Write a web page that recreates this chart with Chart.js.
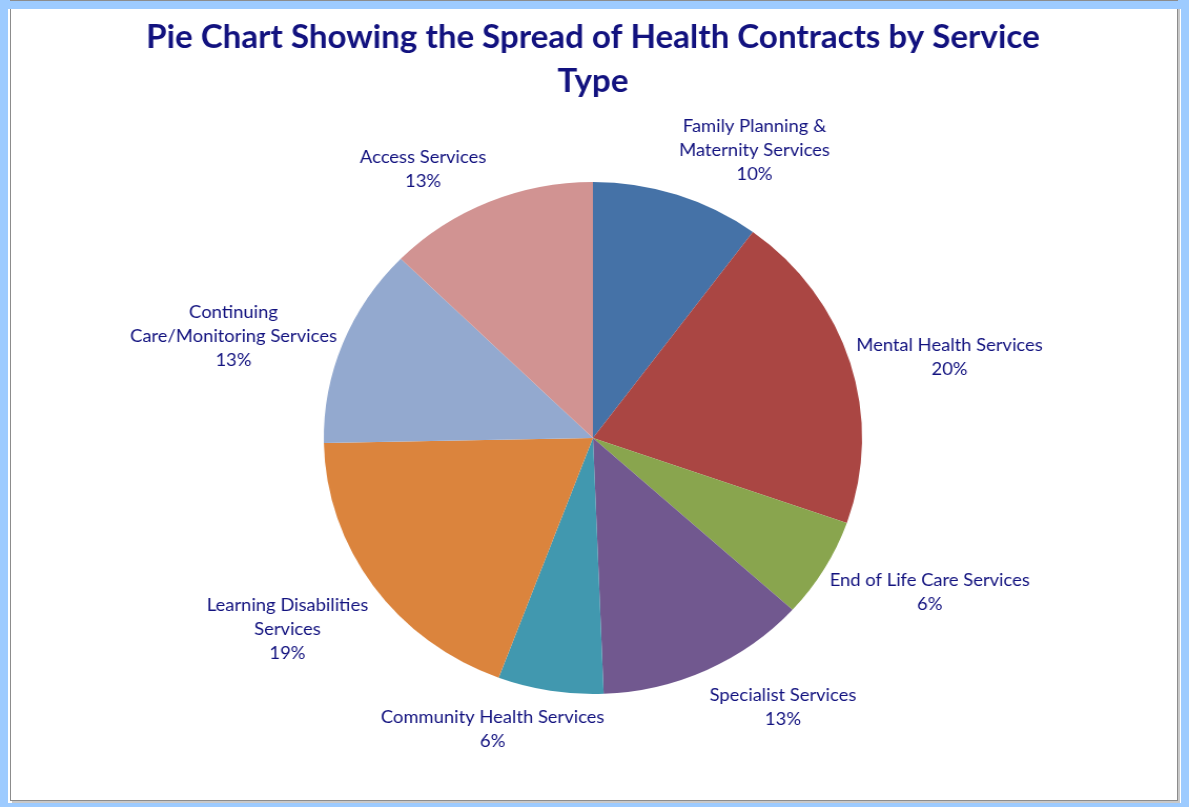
<!DOCTYPE html>
<html>
<head>
    <title>Health Contracts by Service Type</title>
    <script src="https://cdn.jsdelivr.net/npm/chart.js"></script>
    <style>
        body { margin: 0; background: #fff; }
        #frame { position: relative; width: 1189px; height: 807px; background: #9dcbff; overflow: hidden; }
        #paper { position: absolute; left: 8px; top: 9px; width: 1173px; height: 794px; background: #fff; }
        #panel { position: absolute; left: 10px; top: 0; width: 1166px; height: 799px; border: 1px solid #8c8c8c; box-shadow: 2px 2px 0 #c8c8c8; }
        #topband { position: absolute; left: 0; top: 1px; width: 1189px; height: 8px; background: #9dcbff; }
        #chartBox { position: absolute; left: 0; top: 0; width: 1131px; height: 807px; transform: scaleX(1.0513); transform-origin: 0 0; }
    </style>
</head>
<body>
    <div id="frame">
        <div id="paper"></div>
        <div id="panel"></div>
        <div id="topband"></div>
        <div id="chartBox"><canvas id="pieChart"></canvas></div>
    </div>

    <script>
        // Data
        const categories = [
            ['Family Planning &', 'Maternity Services'],
            ['Mental Health Services'],
            ['End of Life Care Services'],
            ['Specialist Services'],
            ['Community Health Services'],
            ['Learning Disabilities', 'Services'],
            ['Continuing', 'Care/Monitoring Services'],
            ['Access Services']
        ];
        const contracts = [8, 16, 5, 10, 5, 15, 10, 10];
        const sliceColors = ['#4572a7', '#aa4643', '#89a54e', '#71588f', '#4198af', '#db843d', '#93a9cf', '#d19392'];
        const titleLines = ['Pie Chart Showing the Spread of Health Contracts by Service', 'Type'];

        const navy = '#12127f';
        const labelLineHeight = 24;

        // Excel-style labels sitting just outside each slice
        const outsideLabels = {
            id: 'outsideLabels',
            afterDatasetsDraw(chart) {
                const ctx = chart.ctx;
                const total = contracts.reduce((a, b) => a + b, 0);
                ctx.save();
                ctx.font = '17.5px Lato';
                ctx.fillStyle = navy;
                ctx.textAlign = 'center';
                ctx.textBaseline = 'middle';
                chart.getDatasetMeta(0).data.forEach((arc, i) => {
                    const lines = categories[i].concat(Math.round(contracts[i] / total * 100) + '%');
                    const mid = (arc.startAngle + arc.endAngle) / 2;
                    const dx = Math.cos(mid), dy = Math.sin(mid);
                    const px = arc.x + (arc.outerRadius + 6) * dx;
                    const py = arc.y + (arc.outerRadius + 6) * dy;
                    const w = Math.max(...lines.map(l => ctx.measureText(l).width));
                    const h = lines.length * labelLineHeight;
                    // horizontal: left edge on the right side, right edge on the left side
                    const f = Math.min(1, Math.max(0, 0.5 - 1.6 * dx));
                    // vertical: centred beside the pie, above/below near top and bottom
                    const t = Math.min(1, Math.max(0, (Math.abs(dy) - 0.4) / 0.2));
                    const g = 0.57 + (dy < 0 ? 0.43 : -0.57) * t;
                    const extra = Math.min(1, 2 * t) * (dy > 0 ? 8.5 : -3);
                    const left = px - f * w;
                    const top = py - g * h + extra;
                    lines.forEach((l, j) => ctx.fillText(l, left + w / 2, top + labelLineHeight * (j + 0.5)));
                });
                ctx.restore();
            }
        };

        new Chart(document.getElementById('pieChart'), {
            type: 'pie',
            data: {
                labels: categories.map(c => c.join(' ')),
                datasets: [{
                    data: contracts,
                    backgroundColor: sliceColors,
                    borderWidth: 0
                }]
            },
            options: {
                responsive: true,
                maintainAspectRatio: false,
                animation: false,
                radius: 256,
                layout: { padding: { top: 6, left: 0, right: 3, bottom: 113 } },
                plugins: {
                    legend: { display: false },
                    tooltip: { enabled: false },
                    title: {
                        display: true,
                        text: titleLines,
                        color: navy,
                        font: { family: 'Lato', size: 31.5, weight: 'bold', lineHeight: '44px' },
                        padding: { top: 10, bottom: 78 }
                    }
                }
            },
            plugins: [outsideLabels]
        });
    </script>
</body>
</html>
